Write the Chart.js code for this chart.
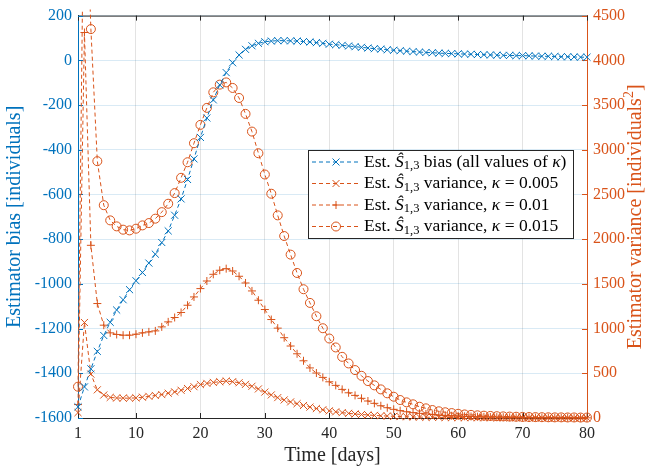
<!DOCTYPE html>
<html>
<head>
<meta charset="utf-8">
<script src="https://cdn.jsdelivr.net/npm/chart.js@4.4.0/dist/chart.umd.min.js"></script>
<style>
  html, body { margin: 0; padding: 0; background: #fff; }
  #wrap { width: 650px; height: 468px; }
</style>
</head>
<body>
<div id="wrap"><canvas id="myChart" width="650" height="468"></canvas></div>
<script>
// days 1..80
const days = [1,2,3,4,5,6,7,8,9,10,11,12,13,14,15,16,17,18,19,20,
  21,22,23,24,25,26,27,28,29,30,31,32,33,34,35,36,37,38,39,40,
  41,42,43,44,45,46,47,48,49,50,51,52,53,54,55,56,57,58,59,60,
  61,62,63,64,65,66,67,68,69,70,71,72,73,74,75,76,77,78,79,80];

// estimator bias (left axis)
const biasValues = [-1550,-1461,-1380,-1302,-1231,-1172,-1117,-1071,-1026,-986,
  -949,-907,-867,-815,-763,-693,-620,-533,-441,-345,
  -258,-177,-110,-55,-11,24,49,65,76,83,
  86,88,88,87,86,84,82,79,76,72,
  70,67,64,61,58,55,52,50,47,45,
  43,41,39,37,35,34,32,31,30,29,
  28,27,26,25,24,23,22,22,21,21,
  20,19,18,18,17,16,16,15,14,14];

// estimator variance (right axis)
const varK005 = [60,1068,491,315,257,230,224,222,222,225,
  232,242,252,262,277,292,310,330,350,374,
  387,398,406,413,406,394,376,355,325,290,
  258,228,202,180,160,140,122,106,92,80,
  69,60,52,45,39,34,29,25,22,19,
  16,14,12,10,9,8,7,6,5,5,
  4,4,3,3,3,2,2,2,2,2,
  1,1,1,1,1,1,1,1,1,1];

const varK010 = [150,4311,1931,1280,1038,952,934,926,926,937,
  952,963,974,1019,1075,1124,1180,1261,1354,1447,
  1532,1607,1652,1670,1644,1585,1510,1421,1317,1213,
  1101,1005,898,805,718,640,560,503,454,405,
  365,320,282,253,220,190,164,137,115,97,
  82,70,60,52,45,39,34,29,25,22,
  19,17,15,13,11,10,9,8,7,6,
  5,5,4,4,3,3,3,2,2,2];

const varK015 = [350,6500,4349,2872,2380,2210,2143,2106,2098,2117,
  2154,2180,2229,2302,2396,2515,2686,2860,3073,3278,
  3468,3642,3728,3753,3691,3579,3401,3203,2961,2723,
  2508,2266,2035,1827,1622,1440,1287,1138,1004,889,
  789,684,610,536,472,413,365,320,276,238,
  201,175,153,126,108,89,75,64,55,47,
  40,35,30,26,23,20,18,16,14,12,
  11,10,9,8,7,7,6,6,5,5];

const xTickValues = [1,10,20,30,40,50,60,70,80];

const blue = '#0072BD';
const orange = '#D95319';
const dark = '#262626';
const serif = "'Liberation Serif', 'Times New Roman', serif";

Chart.defaults.font.family = serif;
Chart.defaults.font.size = 16;

const legendRows = [
  { marker: 'x', color: blue, tail: [' bias (all values of ', 'κ', ')'] },
  { marker: 'x', color: orange, tail: [' variance, ', 'κ', ' = 0.005'] },
  { marker: '+', color: orange, tail: [' variance, ', 'κ', ' = 0.01'] },
  { marker: 'o', color: orange, tail: [' variance, ', 'κ', ' = 0.015'] }
];

function pts(vals) {
  return days.map((d, i) => ({ x: d, y: vals[i] }));
}

function series(label, vals, axis, color, style, radius) {
  return {
    label: label,
    data: pts(vals),
    yAxisID: axis,
    borderColor: color,
    borderWidth: 1,
    borderDash: [4, 3],
    pointStyle: style,
    pointRadius: radius,
    pointBorderColor: color,
    pointBorderWidth: 1,
    pointBackgroundColor: 'rgba(0,0,0,0)',
    fill: false,
    tension: 0,
    clip: 6
  };
}

function drawMarker(ctx, type, x, y, color) {
  ctx.save();
  ctx.strokeStyle = color;
  ctx.lineWidth = 1;
  ctx.setLineDash([]);
  ctx.beginPath();
  if (type === 'x') {
    ctx.moveTo(x - 3.5, y - 3.5); ctx.lineTo(x + 3.5, y + 3.5);
    ctx.moveTo(x - 3.5, y + 3.5); ctx.lineTo(x + 3.5, y - 3.5);
  } else if (type === '+') {
    ctx.moveTo(x - 4, y); ctx.lineTo(x + 4, y);
    ctx.moveTo(x, y - 4); ctx.lineTo(x, y + 4);
  } else {
    ctx.arc(x, y, 4.5, 0, Math.PI * 2);
  }
  ctx.stroke();
  ctx.restore();
}

// text with italic / sub / superscript parts
function drawParts(ctx, parts, x, y) {
  parts.forEach(p => {
    ctx.font = p.f;
    ctx.fillText(p.t, x, y + (p.dy || 0));
    x += ctx.measureText(p.t).width;
  });
}
function partsWidth(ctx, parts) {
  let w = 0;
  parts.forEach(p => { ctx.font = p.f; w += ctx.measureText(p.t).width; });
  return w;
}

const decor = {
  id: 'decor',
  beforeDatasetsDraw(chart) {
    const { ctx, chartArea: a, scales } = chart;
    ctx.save();
    ctx.lineWidth = 1;
    ctx.strokeStyle = dark;
    ctx.beginPath();
    ctx.moveTo(a.left, a.top + 0.5);
    ctx.lineTo(a.right, a.top + 0.5);
    scales.x.ticks.forEach(t => {
      const px = Math.round(scales.x.getPixelForValue(t.value)) + 0.5;
      ctx.moveTo(px, a.bottom); ctx.lineTo(px, a.bottom - 5);
      ctx.moveTo(px, a.top); ctx.lineTo(px, a.top + 5);
    });
    ctx.stroke();
    ctx.strokeStyle = blue;
    ctx.beginPath();
    scales.yL.ticks.forEach(t => {
      const py = Math.round(scales.yL.getPixelForValue(t.value)) + 0.5;
      ctx.moveTo(a.left, py); ctx.lineTo(a.left + 5, py);
    });
    ctx.stroke();
    ctx.strokeStyle = orange;
    ctx.beginPath();
    scales.yR.ticks.forEach(t => {
      const py = Math.round(scales.yR.getPixelForValue(t.value)) + 0.5;
      ctx.moveTo(a.right, py); ctx.lineTo(a.right - 5, py);
    });
    ctx.stroke();
    ctx.restore();
  },
  afterDraw(chart) {
    const { ctx, chartArea: a } = chart;
    const base = '17.5px ' + serif;
    const ital = 'italic 17.5px ' + serif;
    const small = '12.5px ' + serif;

    // legend
    ctx.save();
    ctx.fillStyle = '#fff';
    ctx.fillRect(308.5, 150.5, 265, 88);
    ctx.strokeStyle = dark;
    ctx.lineWidth = 1;
    ctx.strokeRect(308.5, 150.5, 265, 88);
    ctx.textBaseline = 'middle';
    legendRows.forEach((r, i) => {
      const y = 162 + i * 21.5;
      ctx.strokeStyle = r.color;
      ctx.setLineDash([4, 3]);
      ctx.beginPath();
      ctx.moveTo(312, y); ctx.lineTo(360, y);
      ctx.stroke();
      drawMarker(ctx, r.marker, 336, y, r.color);
      ctx.fillStyle = '#000';
      drawParts(ctx, [
        { t: 'Est. ', f: base },
        { t: 'Ŝ', f: ital },
        { t: '1,3', f: small, dy: 4 },
        { t: r.tail[0], f: base },
        { t: r.tail[1], f: ital },
        { t: r.tail[2], f: base }
      ], 364, y);
    });
    ctx.restore();

    // axis titles
    const tf = '20px ' + serif;
    const midY = (a.top + a.bottom) / 2;
    ctx.save();
    ctx.textBaseline = 'alphabetic';
    ctx.textAlign = 'center';
    ctx.font = tf;
    ctx.fillStyle = dark;
    ctx.fillText('Time [days]', (a.left + a.right) / 2, 461);

    ctx.fillStyle = blue;
    ctx.translate(20, midY);
    ctx.rotate(-Math.PI / 2);
    ctx.fillText('Estimator bias [individuals]', 0, 0);
    ctx.restore();

    ctx.save();
    ctx.textBaseline = 'alphabetic';
    ctx.textAlign = 'left';
    ctx.fillStyle = orange;
    const rparts = [
      { t: 'Estimator variance [individuals', f: tf },
      { t: '2', f: '14px ' + serif, dy: -8 },
      { t: ']', f: tf }
    ];
    const w = partsWidth(ctx, rparts);
    ctx.translate(641, midY);
    ctx.rotate(-Math.PI / 2);
    drawParts(ctx, rparts, -w / 2, 0);
    ctx.restore();
  }
};

const plainTick = v => String(v);

new Chart(document.getElementById('myChart'), {
  type: 'line',
  data: {
    datasets: [
      series('bias', biasValues, 'yL', blue, 'crossRot', 5),
      series('var 0.005', varK005, 'yR', orange, 'crossRot', 5),
      series('var 0.01', varK010, 'yR', orange, 'cross', 4),
      series('var 0.015', varK015, 'yR', orange, 'circle', 4.5)
    ]
  },
  options: {
    responsive: false,
    animation: false,
    layout: { padding: { top: 15, left: 0, right: 0, bottom: 0 } },
    plugins: { legend: { display: false }, tooltip: { enabled: false } },
    scales: {
      x: {
        type: 'linear',
        min: 1,
        max: 80,
        afterBuildTicks: s => { s.ticks = xTickValues.map(v => ({ value: v })); },
        afterFit: s => { s.height = 50; },
        grid: { color: 'rgba(38,38,38,0.13)', drawTicks: false },
        border: { color: dark, width: 1 },
        ticks: { color: dark, font: { family: serif, size: 16 }, padding: 6, maxRotation: 0, autoSkip: false, callback: plainTick }
      },
      yL: {
        type: 'linear',
        position: 'left',
        min: -1600,
        max: 200,
        afterFit: s => { s.width = 78; },
        grid: { color: 'rgba(0,114,189,0.15)', drawTicks: false },
        border: { color: blue, width: 1 },
        ticks: { stepSize: 200, color: blue, font: { family: serif, size: 16 }, padding: 6, callback: plainTick }
      },
      yR: {
        type: 'linear',
        position: 'right',
        min: 0,
        max: 4500,
        afterFit: s => { s.width = 63; },
        grid: { drawOnChartArea: false, drawTicks: false },
        border: { color: orange, width: 1 },
        ticks: { stepSize: 500, color: orange, font: { family: serif, size: 16 }, padding: 6, callback: plainTick }
      }
    }
  },
  plugins: [decor]
});
</script>
</body>
</html>
